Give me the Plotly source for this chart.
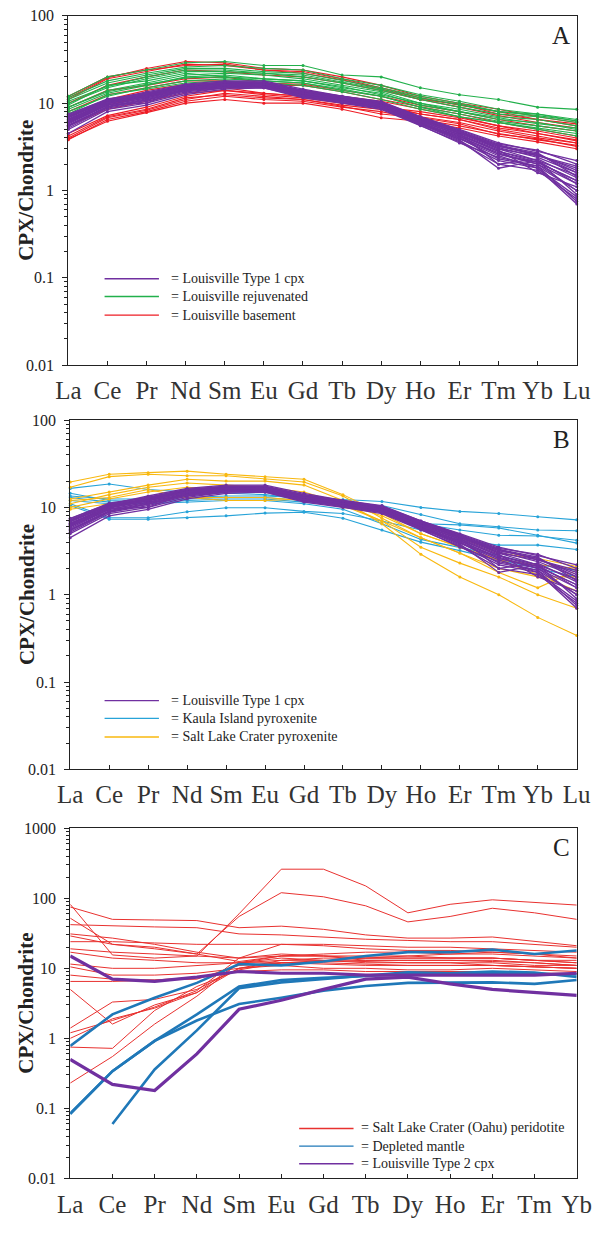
import plotly.graph_objects as go

# ---------------------------------------------------------------- categories
REE14 = ["La", "Ce", "Pr", "Nd", "Sm", "Eu", "Gd", "Tb", "Dy", "Ho", "Er", "Tm", "Yb", "Lu"]
REE13 = ["La", "Ce", "Pr", "Nd", "Sm", "Eu", "Gd", "Tb", "Dy", "Ho", "Er", "Tm", "Yb"]

# ------------------------------------------- Louisville Type 1 cpx (A and B)
louisville_type1 = [
    [6.5, 10.0, 12.0, 15.0, 16.0, 16.5, 13.0, 11.0, 9.5, 6.5, 4.5, 3.0, 2.2, 1.5],
    [6.0, 9.5, 11.5, 14.5, 16.0, 16.0, 12.5, 10.5, 9.0, 6.0, 4.2, 2.6, 2.0, 1.2],
    [7.0, 10.5, 12.5, 15.5, 17.0, 17.0, 13.5, 11.5, 10.0, 6.8, 4.8, 3.3, 2.5, 1.8],
    [5.5, 9.0, 11.0, 14.0, 15.5, 15.5, 12.0, 10.5, 9.0, 5.8, 4.0, 2.3, 1.9, 1.0],
    [7.5, 11.0, 13.0, 16.0, 17.5, 17.5, 14.0, 12.0, 10.5, 7.0, 5.0, 3.5, 2.8, 2.2],
    [4.5, 8.0, 9.5, 12.5, 14.5, 15.0, 11.5, 10.0, 8.5, 5.5, 3.6, 2.0, 1.7, 0.8],
    [6.2, 10.0, 12.0, 15.0, 16.5, 16.5, 13.0, 11.0, 9.5, 6.3, 4.3, 2.8, 2.1, 1.3],
    [5.8, 9.5, 11.5, 14.5, 15.5, 16.0, 12.5, 11.0, 9.0, 6.0, 3.8, 1.8, 2.2, 0.9],
    [6.8, 10.5, 12.5, 15.5, 16.5, 17.0, 13.5, 11.5, 9.8, 6.5, 4.6, 3.1, 2.4, 1.6],
    [5.2, 8.8, 10.5, 13.5, 15.0, 15.5, 12.0, 10.5, 8.8, 5.7, 3.9, 2.5, 1.8, 0.7],
    [7.2, 10.8, 13.5, 16.5, 18.0, 18.0, 14.5, 12.0, 10.3, 7.0, 4.9, 3.4, 2.9, 2.0],
    [6.0, 9.8, 11.8, 15.0, 16.2, 16.2, 12.8, 10.8, 9.2, 6.2, 4.4, 2.9, 1.6, 1.1],
    [6.6, 10.2, 12.2, 15.2, 16.8, 16.6, 13.2, 11.2, 9.7, 6.4, 4.5, 2.0, 2.3, 1.4],
    [5.0, 8.5, 10.0, 13.0, 15.0, 15.0, 11.8, 10.2, 8.7, 5.6, 3.5, 2.4, 1.9, 0.75],
    [6.4, 10.4, 12.4, 15.4, 16.6, 16.8, 13.4, 11.4, 9.6, 6.6, 4.6, 3.2, 2.6, 1.7],
    [5.6, 9.2, 11.2, 14.2, 15.8, 15.8, 12.4, 10.6, 9.1, 5.9, 4.1, 2.7, 2.0, 1.0],
    [7.4, 11.2, 13.0, 16.2, 17.2, 17.2, 14.0, 11.8, 10.0, 6.9, 4.8, 3.0, 2.5, 1.9],
    [6.1, 9.7, 10.0, 14.8, 16.0, 16.4, 12.9, 11.0, 9.3, 6.1, 4.0, 2.6, 2.1, 1.3],
    [6.9, 10.6, 12.6, 15.8, 17.0, 17.2, 13.7, 11.6, 10.1, 6.7, 4.7, 3.3, 2.7, 1.45],
    [5.4, 9.0, 10.8, 13.8, 15.2, 15.4, 12.2, 10.4, 8.9, 5.8, 3.7, 2.2, 1.8, 0.85],
    [6.3, 10.1, 12.1, 15.1, 16.4, 16.6, 13.1, 11.1, 9.4, 6.2, 4.3, 2.8, 2.2, 1.2],
    [7.1, 10.9, 12.9, 16.0, 17.4, 17.4, 13.8, 11.8, 10.2, 6.8, 4.7, 3.2, 2.6, 1.6],
]

# ------------------------------------------------ Louisville rejuvenated (A)
louisville_rejuvenated = [
    [12.0, 20.0, 24.0, 29.0, 30.0, 27.0, 27.0, 21.0, 20.0, 15.0, 12.5, 11.0, 9.0, 8.5],
    [11.0, 17.0, 21.0, 25.0, 25.0, 23.0, 22.0, 18.0, 15.0, 12.0, 10.0, 8.0, 7.5, 6.5],
    [10.0, 15.0, 19.0, 23.0, 23.0, 22.0, 20.0, 17.0, 14.0, 11.0, 9.0, 7.5, 7.0, 6.0],
    [9.0, 14.0, 17.0, 21.0, 22.0, 21.0, 19.0, 16.0, 13.5, 10.0, 8.5, 7.0, 6.5, 5.5],
    [8.5, 13.0, 16.0, 20.0, 21.0, 19.0, 18.0, 15.0, 13.0, 9.5, 8.0, 6.5, 6.0, 5.0],
    [9.5, 16.0, 18.0, 22.0, 20.0, 18.0, 17.0, 14.5, 12.0, 9.0, 7.5, 6.2, 5.5, 4.8],
    [8.0, 12.0, 15.0, 18.0, 19.0, 18.0, 17.0, 14.0, 12.0, 9.0, 7.0, 6.0, 5.2, 4.5],
    [11.5, 18.0, 22.0, 26.0, 27.0, 25.0, 24.0, 19.0, 16.0, 12.5, 10.5, 8.5, 7.5, 6.2],
    [7.5, 12.5, 14.5, 17.0, 18.0, 17.0, 16.0, 13.5, 11.0, 8.5, 7.0, 6.0, 5.0, 4.2],
    [10.5, 15.5, 20.0, 24.0, 24.0, 22.0, 21.0, 17.5, 14.5, 11.5, 9.5, 8.0, 7.2, 6.3],
    [9.0, 13.5, 16.5, 19.5, 20.0, 19.0, 18.0, 15.5, 12.5, 10.0, 8.0, 6.8, 5.8, 5.2],
]

# --------------------------------------------------- Louisville basement (A)
louisville_basement = [
    [11.5, 19.5, 25.0, 30.0, 29.0, 25.0, 24.0, 20.0, 16.0, 12.0, 10.0, 8.5, 7.0, 6.0],
    [11.0, 19.0, 23.0, 28.0, 27.0, 24.0, 23.0, 19.0, 15.0, 11.5, 9.5, 8.0, 6.5, 5.8],
    [12.0, 20.0, 24.0, 27.0, 28.0, 24.0, 22.0, 18.5, 14.5, 11.0, 9.8, 7.5, 6.5, 5.5],
    [8.0, 12.5, 15.0, 18.0, 18.0, 16.0, 16.0, 13.5, 11.0, 9.0, 7.5, 6.0, 5.0, 4.2],
    [7.0, 11.0, 14.0, 16.5, 17.0, 15.0, 14.0, 12.0, 10.5, 8.5, 7.0, 5.5, 4.5, 3.8],
    [9.0, 14.0, 16.0, 19.0, 20.0, 17.0, 16.5, 14.0, 12.0, 9.5, 8.0, 6.5, 5.5, 4.8],
    [6.0, 9.5, 12.0, 14.0, 15.0, 13.0, 12.0, 10.5, 9.5, 7.5, 6.5, 5.0, 4.2, 3.5],
    [3.8, 6.5, 8.0, 10.5, 12.0, 11.0, 10.5, 9.0, 8.0, 6.5, 5.5, 4.5, 3.8, 3.3],
    [4.0, 6.8, 8.3, 11.0, 13.0, 12.0, 11.0, 9.5, 8.5, 7.0, 6.0, 4.8, 4.0, 3.5],
    [3.9, 6.2, 7.8, 10.0, 11.0, 10.0, 10.0, 8.5, 6.8, 6.2, 5.2, 4.2, 3.6, 3.0],
    [4.2, 7.0, 8.5, 11.5, 12.5, 11.5, 11.0, 9.2, 7.5, 6.8, 5.8, 4.4, 3.9, 3.2],
    [4.5, 7.2, 9.0, 12.0, 14.0, 13.0, 12.0, 10.0, 9.0, 7.5, 6.5, 5.2, 4.5, 3.7],
    [5.5, 8.5, 10.5, 13.0, 14.0, 12.5, 11.5, 10.0, 9.0, 8.0, 6.8, 5.5, 4.8, 4.0],
    [10.0, 16.0, 20.0, 24.0, 23.0, 21.0, 20.0, 17.0, 14.0, 11.0, 9.0, 7.2, 6.0, 5.2],
]

# ------------------------------------------------- Kaula Island pyroxenite (B)
kaula_pyroxenite = [
    [13.5, 12.5, 12.5, 13.0, 13.5, 13.5, 13.0, 12.3, 11.7, 10.0, 9.0, 8.5, 7.8, 7.2],
    [16.5, 18.5, 16.0, 15.0, 14.5, 14.0, 12.5, 11.0, 9.0, 6.5, 5.5, 4.8, 4.7, 4.2],
    [12.0, 11.0, 11.0, 12.0, 12.5, 12.5, 11.5, 10.5, 10.5, 8.3, 6.5, 6.0, 5.5, 5.4],
    [10.5, 7.3, 7.3, 7.6, 8.0, 8.6, 8.8, 7.5, 5.5, 4.0, 3.2, 2.5, 2.0, 1.6],
    [11.0, 7.6, 7.6, 8.9, 9.9, 9.9, 9.0, 8.5, 7.0, 5.5, 4.2, 3.7, 3.7, 3.3],
    [14.5, 12.0, 11.5, 12.5, 13.0, 13.0, 12.0, 10.5, 9.0, 6.5, 6.3, 5.8, 4.8, 3.9],
    [13.0, 11.5, 11.0, 11.5, 12.0, 12.0, 11.0, 9.5, 6.5, 4.3, 3.5, 2.8, 2.2, 1.9],
]

# -------------------------------------------- Salt Lake Crater pyroxenite (B)
salt_lake_pyroxenite = [
    [19.5, 24.0, 25.0, 26.0, 24.0, 22.5, 21.0, 14.0, 8.5, 5.0, 3.5, 2.5, 2.2, 2.0],
    [17.0, 22.5, 24.0, 23.0, 23.0, 21.0, 19.5, 13.5, 7.5, 4.5, 3.0, 2.0, 1.6, 1.6],
    [12.5, 15.0, 18.0, 21.0, 20.0, 20.0, 18.0, 12.0, 6.5, 2.9, 1.6, 1.0, 0.55, 0.34],
    [11.0, 14.0, 17.0, 19.0, 18.0, 17.0, 15.0, 11.0, 7.0, 3.5, 2.3, 1.6, 1.0, 0.7],
    [10.0, 12.5, 15.0, 17.0, 16.0, 16.0, 13.0, 10.0, 9.0, 6.0, 4.5, 3.0, 2.6, 2.1],
    [9.5, 11.0, 13.0, 13.0, 13.0, 13.0, 12.0, 11.0, 8.0, 5.0, 3.5, 2.5, 1.7, 1.1],
    [12.0, 13.0, 16.0, 13.0, 12.0, 12.0, 12.5, 10.5, 7.0, 4.5, 3.0, 1.8, 1.2, 1.9],
]

# ------------------------------------- Salt Lake Crater (Oahu) peridotite (C)
salt_lake_peridotite = [
    [82, 15.5, 14, 15, 60, 260, 260, 150, 62, 82, 95, 88, 80],
    [75, 50, 49, 48, 38, 40, 36, 30, 27, 27, 28, 24, 21],
    [52, 22, 20, 16, 55, 120, 105, 78, 46, 55, 72, 62, 50],
    [42, 40, 39, 38, 31, 30, 28, 26, 25, 24, 24, 22, 20],
    [31, 27, 22, 17, 14, 22, 22, 21, 20, 20, 19, 18, 17],
    [29, 22, 19, 16, 12.5, 15, 15, 15, 15, 14, 14, 13, 12],
    [24, 24, 23, 22, 22, 22, 21, 19, 18, 18, 17, 16, 15],
    [19, 17, 16, 15, 14, 15, 15, 14, 14, 14, 14, 13, 13],
    [17, 14, 13, 12, 12, 13, 13, 12.5, 12, 12, 12, 11, 11],
    [11.5, 10, 10, 11, 12, 12, 11.5, 11, 11, 11, 11, 10.5, 10],
    [10.5, 8, 8, 8.5, 10, 11, 10, 10, 9.5, 9.5, 10, 9.5, 9],
    [8, 7, 6.8, 7.5, 9, 9.5, 9.5, 9, 9, 9, 9, 8.5, 8.5],
    [6.5, 6.5, 6.8, 7, 11, 12, 13, 14, 15, 16, 17, 16, 14],
    [5, 1.6, 3, 4.5, 12, 15, 16, 17, 17, 16, 16, 15, 14],
    [1.4, 3.3, 3.6, 5, 10, 13, 14, 14, 14, 14, 14, 13, 12],
    [0.75, 0.72, 2.5, 5.5, 9.5, 12, 12.5, 13, 13, 13, 12.5, 12, 11],
    [0.23, 0.55, 1.6, 4, 12, 14, 13, 12, 12, 12, 11, 10.5, 10],
    [1.2, 1.8, 2.8, 4.8, 14, 16, 15, 13, 13, 13, 13, 12, 11],
    [1.0, 1.9, 2.7, 4.5, 10, 12, 12, 11.5, 11, 11, 11, 10.5, 10],
]

# ------------------------------------------------------ Depleted mantle (C)
depleted_mantle = [
    [0.78, 2.2, 3.8, 6.2, 11.5, 11, 12.5, 15, 17, 17, 18.5, 16, 18],
    [0.084, 0.34, 0.92, 2.2, 5.5, 6.8, 7.3, 7.8, 8.3, 8.3, 8.5, 8.3, 8.2],
    [None, 0.06, 0.36, 1.3, 5.2, 6.3, 7.0, 7.8, 8.8, 8.5, 9, 8.7, 7.5],
    [0.084, 0.34, 0.92, 1.8, 3.1, 3.8, 4.8, 5.6, 6.2, 6.2, 6.3, 6.0, 6.8],
]

# ------------------------------------------------ Louisville Type 2 cpx (C)
louisville_type2 = [
    [15, 7, 6.5, 7.5, 9, 8.5, 8.5, 8, 8, 8, 8, 8, 8.5],
    [0.5, 0.22, 0.18, 0.6, 2.6, 3.5, 5, 7, 7.5, 6, 5, 4.5, 4.1],
]

# ---------------------------------------------------------------- styling
PURPLE = "#7030a0"
GREEN = "#22b04b"
RED = "#ee1c25"
BLUE_B = "#27a3d8"
YELLOW = "#f8b80f"
RED_C = "#e8312f"
BLUE_C = "#1f78b8"
PURPLE_C = "#7030a0"
SERIF = "Liberation Serif"

# page coordinates (px) are mapped onto a figure that sits inside the
# browser's default 8 px body margin
PAGE_W, PAGE_H = 615, 1234
OFF = 8
W, H = PAGE_W - OFF, PAGE_H - 2 * OFF


def px(X):
    return (X - OFF) / W


def py(Y):
    return 1 - (Y - OFF) / H


fig = go.Figure()


def add_group(rows, cats, color, ax, width, marker_size):
    xa, ya = ("x", "y") if ax == 1 else (f"x{ax}", f"y{ax}")
    for row in rows:
        fig.add_trace(go.Scatter(
            x=cats, y=row, xaxis=xa, yaxis=ya,
            mode="lines+markers" if marker_size else "lines",
            line=dict(color=color, width=width),
            marker=dict(size=marker_size, color=color),
            cliponaxis=False, showlegend=False, hoverinfo="skip",
        ))


# Panel A
add_group(louisville_basement, REE14, RED, 1, 1.1, 3)
add_group(louisville_rejuvenated, REE14, GREEN, 1, 1.1, 3)
add_group(louisville_type1, REE14, PURPLE, 1, 1.3, 3)
# Panel B
add_group(kaula_pyroxenite, REE14, BLUE_B, 2, 1.1, 3)
add_group(salt_lake_pyroxenite, REE14, YELLOW, 2, 1.1, 3)
add_group(louisville_type1, REE14, PURPLE, 2, 1.3, 3)
# Panel C
add_group(salt_lake_peridotite, REE13, RED_C, 3, 1.0, 0)
add_group(depleted_mantle, REE13, BLUE_C, 3, 2.6, 0)
add_group(louisville_type2, REE13, PURPLE_C, 3, 3.2, 0)

# page-pixel boxes of each panel: (left, right, top, bottom)
boxes = {1: (66, 599, 16, 372), 2: (68, 599, 428, 784), 3: (68, 599, 844, 1201)}
ncat = {1: 13, 2: 13, 3: 12}
yrng = {1: [-2, 2], 2: [-2, 2], 3: [-2, 3]}
cats = {1: REE14, 2: REE14, 3: REE13}

layout = dict(
    width=W, height=H, margin=dict(l=0, r=0, t=0, b=0),
    paper_bgcolor="white", plot_bgcolor="white", showlegend=False,
    font=dict(family=SERIF, color="#222"),
)
for k, (l, r, t, b) in boxes.items():
    sx = "" if k == 1 else str(k)
    layout[f"xaxis{sx}"] = dict(
        domain=[px(l), px(r)], anchor=f"y{sx}", type="category",
        categoryorder="array", categoryarray=cats[k], range=[0, ncat[k]],
        showline=True, linecolor="#222", linewidth=1.2, mirror=True,
        ticks="inside", ticklen=4, tickcolor="#222", showgrid=False, zeroline=False,
        ticklabelstandoff=3,
        tickfont=dict(family=SERIF, size=25, color="#333"),
    )
    layout[f"yaxis{sx}"] = dict(
        domain=[py(b), py(t)], anchor=f"x{sx}", type="log", range=yrng[k],
        dtick=1, showline=True, linecolor="#222", linewidth=1.2, mirror=True,
        ticks="outside", ticklen=5, tickcolor="#222", showgrid=False, zeroline=False,
        minor=dict(ticks="outside", ticklen=3, tickcolor="#222", dtick="D1", showgrid=False),
        ticklabelstandoff=5,
        tickfont=dict(family=SERIF, size=16, color="#222"),
    )
fig.update_layout(**layout)

annotations = []
shapes = []
letters = {1: "A", 2: "B", 3: "C"}
for k, (l, r, t, b) in boxes.items():
    annotations.append(dict(
        text="CPX/Chondrite", textangle=-90, x=px(22), y=py((t + b) / 2),
        xref="paper", yref="paper", xanchor="center", yanchor="middle", showarrow=False,
        font=dict(family=SERIF, size=21, color="#222", weight="bold"),
    ))
    annotations.append(dict(
        text=letters[k], x=px(583), y=py(t + 20), xref="paper", yref="paper",
        xanchor="center", yanchor="middle", showarrow=False,
        font=dict(family=SERIF, size=25, color="#222"),
    ))

legends = [
    (104, 161, 172, [284, 302, 321],
     ["= Louisville Type 1 cpx", "= Louisville rejuvenated", "= Louisville basement"],
     [PURPLE, GREEN, RED], [1.4, 1.4, 1.4]),
    (104, 161, 172, [714, 732, 751],
     ["= Louisville Type 1 cpx", "= Kaula Island pyroxenite", "= Salt Lake Crater pyroxenite"],
     [PURPLE, BLUE_B, YELLOW], [1.4, 1.4, 1.4]),
    (308, 365, 371, [1150, 1168, 1186],
     ["= Salt Lake Crater (Oahu) peridotite", "= Depleted mantle", "= Louisville Type 2 cpx"],
     [RED_C, BLUE_C, PURPLE_C], [1.4, 1.4, 1.6]),
]
for x0, x1, xt, ys, texts, colors, widths in legends:
    for yy, txt, col, lw in zip(ys, texts, colors, widths):
        shapes.append(dict(type="line", xref="paper", yref="paper",
                           x0=px(x0), x1=px(x1), y0=py(yy), y1=py(yy),
                           line=dict(color=col, width=lw)))
        annotations.append(dict(text=txt, x=px(xt), y=py(yy), xref="paper", yref="paper",
                                xanchor="left", yanchor="middle", showarrow=False,
                                font=dict(family=SERIF, size=14, color="#222")))

fig.update_layout(annotations=annotations, shapes=shapes)
fig.write_html("out.html")
